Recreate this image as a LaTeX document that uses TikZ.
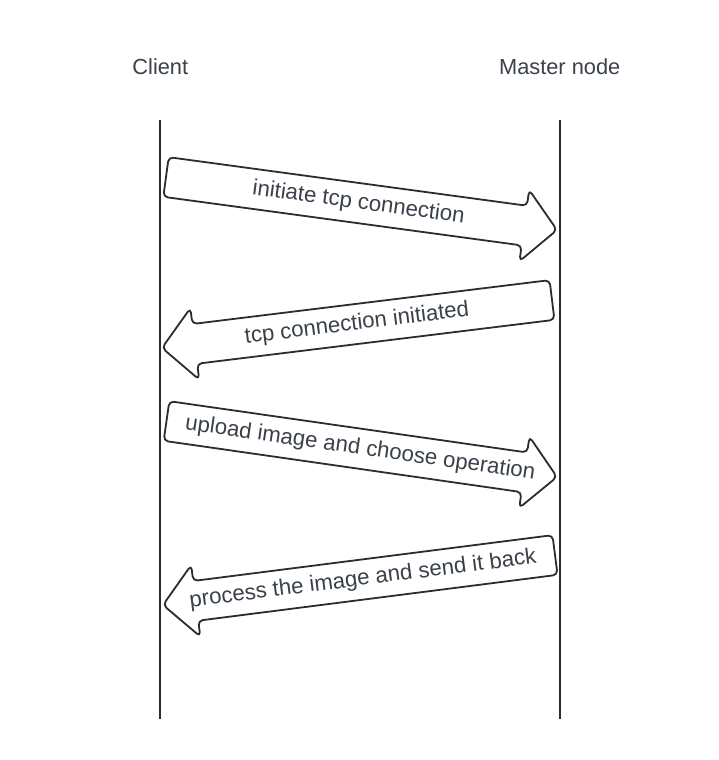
\documentclass[tikz,border=0pt]{standalone}
\usepackage{fontspec}
\setmainfont{Liberation Sans}
\definecolor{linec}{HTML}{282C33}
\definecolor{textc}{HTML}{3A414A}
\tikzset{
  lifeline/.style={draw=linec, line width=1.6pt},
  arrowshape/.style={draw=linec, line width=1.8pt, fill=white, rounded corners=4.5pt, line join=round},
  lbl/.style={text=textc, inner sep=0pt, font=\fontsize{21.8}{26}\selectfont},
  albl/.style={text=textc, inner sep=0pt, font=\fontsize{22.2}{26}\selectfont},
}
\newcommand\blockarrow[7]{% x, y, angle, length, text angle, name, text offset along axis
  \begin{scope}[shift={(#1,#2)}, rotate=#3]
    \draw[arrowshape] (0,20) -- (#4-33,20) -- (#4-33,36) -- (#4,0) -- (#4-33,-36) -- (#4-33,-20) -- (0,-20) -- cycle;
    \node[albl, rotate=#5] (#6) at (#4/2+#7,0) {\csname txt#6\endcsname};
  \end{scope}}
\newcommand\txtmA{initiate tcp connection}
\newcommand\txtmB{tcp connection initiated}
\newcommand\txtmC{upload image and choose operation}
\newcommand\txtmD{process the image and send it back}
\begin{document}
\begin{tikzpicture}[x=1pt, y=1pt]
  \useasboundingbox (0,0) rectangle (719,760);
  \node[lbl] (client) at (160.3,693) {Client};
  \node[lbl] (master) at (559.7,693) {Master node};
  \coordinate (cTop) at (160,640);
  \coordinate (cBot) at (160,41);
  \coordinate (mTop) at (560,640);
  \coordinate (mBot) at (560,41);
  \draw[lifeline] (cTop) -- (cBot);
  \draw[lifeline] (mTop) -- (mBot);
  \blockarrow{166}{583}{-7.72}{394.6}{-7.72}{mA}{-3}
  \blockarrow{552}{460}{187.0}{392.9}{7.0}{mB}{0}
  \blockarrow{166.5}{339}{-8.16}{394.5}{-8.16}{mC}{-1.5}
  \blockarrow{555}{205}{187.27}{395.2}{7.27}{mD}{-4}
\end{tikzpicture}
\end{document}
